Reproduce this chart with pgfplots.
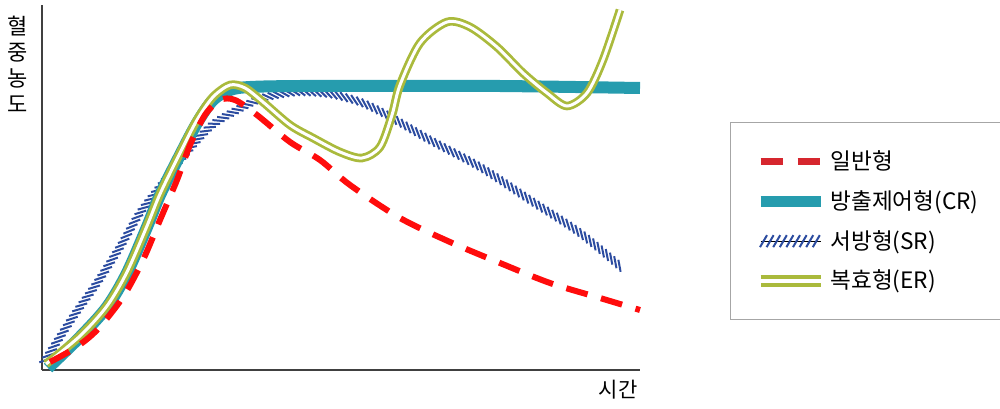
\documentclass[border=0pt]{standalone}
\usepackage{fontspec}
\setmainfont{Noto Sans CJK KR}
\usepackage{pgfplots}
\pgfplotsset{compat=1.18}
\usetikzlibrary{decorations.markings}

\definecolor{crteal}{RGB}{38,156,174}
\definecolor{srblue}{RGB}{44,76,160}
\definecolor{erolive}{RGB}{170,186,60}
\definecolor{irred}{RGB}{255,12,12}
\definecolor{irleg}{RGB}{214,38,46}

\begin{document}
\begin{tikzpicture}
\useasboundingbox (-21pt,-19pt) rectangle (479pt,185pt);
\begin{axis}[
    at={(0pt,0pt)}, anchor=south west,
    disabledatascaling,
    scale only axis, width=299pt, height=182.5pt,
    xmin=42, xmax=640, ymin=0, ymax=365,
    axis x line=bottom, axis y line=left,
    axis line style={-, line width=0.8pt, draw=black!75},
    xtick=\empty, ytick=\empty,
    clip=false,
    legend image code/.code={\draw[#1] (0pt,0pt) -- (30pt,0pt);},
    legend cell align=left,
    legend style={at={(1.1505,0.6795)}, anchor=north west,
        draw=black!35, line width=0.5pt,
        inner xsep=12pt, inner ysep=12pt, row sep=5pt,
        font=\fontsize{11.3}{13}\selectfont,
        /tikz/every odd column/.append style={column sep=0pt}},
]
% 서방형 (hatched)
\addplot[forget plot, draw=none, smooth,
    postaction={decorate, decoration={markings,
        mark=between positions 1pt and -1pt step 2.75pt with
        {\draw[srblue, line width=1pt] (-2.4pt,1.9pt) -- (2.4pt,-1.9pt);}}}]
coordinates {
    (44,8)(73,53)(97,87)(120,123)(140,157)(163,187)(180,210)
    (210,243)(237,260)(263,272)(297,278)(330,276)(360,268)(387,255)
    (430,230)(480,203)(530,170)(580,137)(622,102)
};
% 방출제어형 (CR)
\addplot[forget plot, crteal, line width=6pt, smooth] coordinates {
    (48,2)(80,33)(107,63)(127,97)(147,143)(160,175)(180,215)(197,247)
    (213,270)(230,280)(250,283)(300,284)(400,284)(500,284)(640,282)
};
% 복효형 (ER)
\addplot[forget plot, erolive, line width=1.4pt, double=white,
    double distance=1.5pt, smooth] coordinates {
    (46,6)(80,34)(107,64)(127,98)(147,144)(160,176)(180,217)(197,250)
    (213,273)(230,285)(245,282)(263,268)(290,245)(313,232)(340,218)
    (362,212)(380,223)(392,255)(400,285)(420,327)(447,348)(470,343)
    (497,323)(523,297)(547,277)(567,264)(587,277)(603,310)(620,360)
};
% 일반형
\addplot[forget plot, irred, line width=3pt, dash pattern=on 11pt off 7pt,
    smooth] coordinates {
    (50,8)(75,22)(97,40)(123,73)(143,110)(160,150)(177,190)(190,225)
    (205,255)(220,270)(235,270)(257,255)(290,228)(320,210)(350,185)
    (400,152)(450,128)(500,107)(550,87)(600,72)(640,60)
};

\addlegendimage{line width=3.5pt, irleg, dash pattern=on 11pt off 7.5pt}
\addlegendentry{일반형}
\addlegendimage{line width=5.5pt, crteal}
\addlegendentry{방출제어형(CR)}
\addlegendimage{legend image code/.code={\path[postaction={decorate,
    decoration={markings, mark=between positions 1.5pt and 29pt step 3.3pt with
    {\draw[srblue, line width=1pt] (-1.75pt,-3pt) -- (1.75pt,3pt);}}}]
    (0pt,0pt) -- (30pt,0pt);}}
\addlegendentry{서방형(SR)}
\addlegendimage{line width=2pt, erolive, double=white, double distance=2pt}
\addlegendentry{복효형(ER)}

\node[font=\fontsize{11}{13}\selectfont, align=center]
    at (axis cs:18,306) {혈\\중\\농\\도};
\node[font=\fontsize{10.5}{12}\selectfont] at (axis cs:618,-20) {시간};
\end{axis}
\end{tikzpicture}
\end{document}
